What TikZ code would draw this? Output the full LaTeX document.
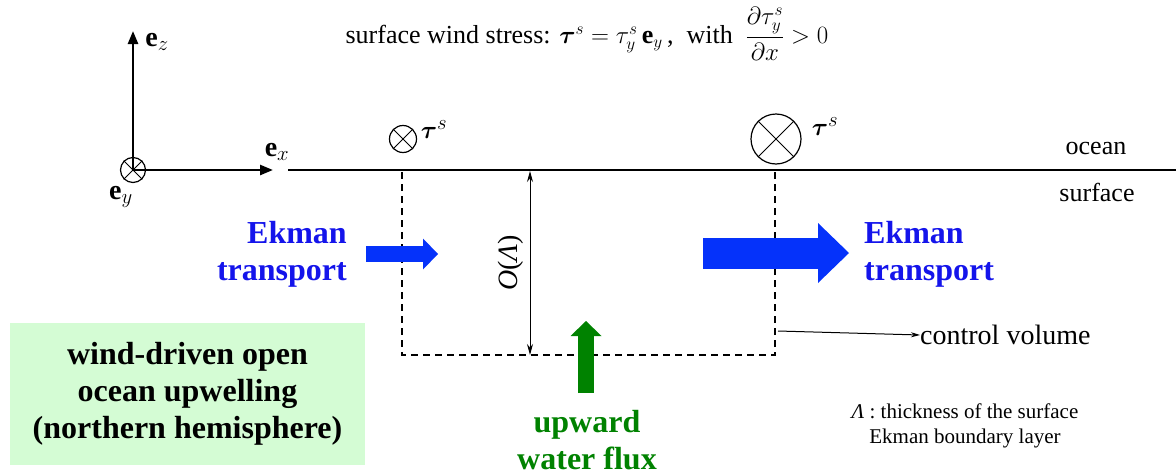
\documentclass[tikz,border=0pt]{standalone}
\usepackage{fontspec}
\setmainfont{Liberation Serif}
\newfontfamily\tms{Liberation Serif}
\usepackage{amsmath}
\usepackage{bm}
\usetikzlibrary{arrows.meta, positioning}
\definecolor{EB}{RGB}{5,50,250}
\definecolor{EBt}{RGB}{20,20,235}
\definecolor{UG}{RGB}{0,130,0}
\definecolor{LGb}{RGB}{212,252,212}

\begin{document}
\begin{tikzpicture}[x=1pt, y=-1pt,
  axis/.style={line width=2.5pt, -{Triangle[length=13pt, width=10pt]}},
  surf/.style={line width=2.5pt},
  cvline/.style={line width=1.8pt, dash pattern=on 7pt off 5pt},
  dimline/.style={line width=1pt, {Stealth[length=11pt, width=6pt]}-{Stealth[length=11pt, width=6pt]}},
  xcirc/.style={circle, draw, line width=1.2pt, inner sep=0pt, minimum size=#1},
  txt/.style={font=\fontsize{#1}{#1}\selectfont\tms, inner sep=0pt},
  boldtxt/.style={font=\fontsize{32}{37}\selectfont\tms\bfseries, inner sep=0pt},
  flux/.style={line width=#1}
]
\useasboundingbox (0,0) rectangle (1176,474);

% coordinate axes
\coordinate (orig) at (133,170);
\coordinate (ztip) at (133,31);
\coordinate (xtip) at (273,170);
\draw[axis] (orig) -- (ztip);
\draw[axis] (orig) -- (xtip);
\node[xcirc=25] (ey) at (orig) {};
\draw[line width=1pt] (ey.north east) -- (ey.south west) (ey.north west) -- (ey.south east);
\node[txt=28] (ezl) at (157,42) {$\mathbf{e}_z$};
\node[txt=28] (exl) at (277,152) {$\mathbf{e}_x$};
\node[txt=28] (eyl) at (121,197) {$\mathbf{e}_y$};

\node[txt=26] (stress) at (587,34)
  {surface wind stress: $\boldsymbol{\tau}^s = \tau^s_y\,\mathbf{e}_y$\,,\ \ with\ \ $\dfrac{\partial \tau^s_y}{\partial x} > 0$};

% ocean surface
\coordinate (sL) at (288,170);
\coordinate (sR) at (1176,170);
\draw[surf] (sL) -- (sR);
\node[txt=26] (ocl) at (1096,148) {ocean};
\node[txt=26] (sfl) at (1097,192) {surface};

% wind stress into the page
\node[xcirc=27] (tw1) at (403,139) {};
\draw[line width=1pt] (tw1.north east) -- (tw1.south west) (tw1.north west) -- (tw1.south east);
\node[txt=28] (tw1l) at (434,130) {$\boldsymbol{\tau}^s$};
\node[xcirc=50] (tw2) at (776,139) {};
\draw[line width=1pt] (tw2.north east) -- (tw2.south west) (tw2.north west) -- (tw2.south east);
\node[txt=28] (tw2l) at (825,127) {$\boldsymbol{\tau}^s$};

% control volume
\coordinate (cvA) at (402,172);
\coordinate (cvB) at (402,355);
\coordinate (cvC) at (775,355);
\coordinate (cvD) at (775,172);
\draw[cvline] (cvA) -- (cvB) -- (cvC) -- (cvD);
\coordinate (dTop) at (530,171);
\coordinate (dBot) at (530,355);
\draw[dimline] (dTop) -- (dBot);
\node[txt=28, rotate=90] (dimlbl) at (511,263) {\textit{O}(\textit{Λ})};

% Ekman transport
\coordinate (inA) at (366,254);
\coordinate (inB) at (438,254);
\draw[EB, flux=16pt, -{Triangle[length=15pt, width=31pt, line width=0pt]}] (inA) -- (inB);
\coordinate (outA) at (703,253);
\coordinate (outB) at (849,253);
\draw[EB, flux=31pt, -{Triangle[length=31pt, width=60pt, line width=0pt]}] (outA) -- (outB);
\node[boldtxt, text=EBt, align=right, anchor=east] (ekL) at (347,254) {Ekman\\transport};
\node[boldtxt, text=EBt, align=left, anchor=west] (ekR) at (864,254) {Ekman\\transport};

% upward flux
\coordinate (upA) at (586,393);
\coordinate (upB) at (586,321);
\draw[UG, flux=16pt, -{Triangle[length=15pt, width=31pt, line width=0pt]}] (upA) -- (upB);
\node[boldtxt, text=UG, align=center] (upl) at (587,440) {upward\\water flux};

\node[boldtxt, fill=LGb, align=center, minimum width=355pt, minimum height=142pt] (regime)
  at (187.5,394) {wind-driven open\\ocean upwelling\\(northern hemisphere)};

\coordinate (cvP) at (778,331);
\node[txt=28, anchor=west] (cvl) at (920,335) {control volume};
\draw[line width=1pt, -{Stealth[length=9pt, width=5pt]}] (cvP) -- (cvl.west);

\node[font=\fontsize{21}{25}\selectfont\tms, align=center, inner sep=0pt] (lam) at (965,426)
  {\textit{Λ} : thickness of the surface\\Ekman boundary layer};
\end{tikzpicture}
\end{document}
